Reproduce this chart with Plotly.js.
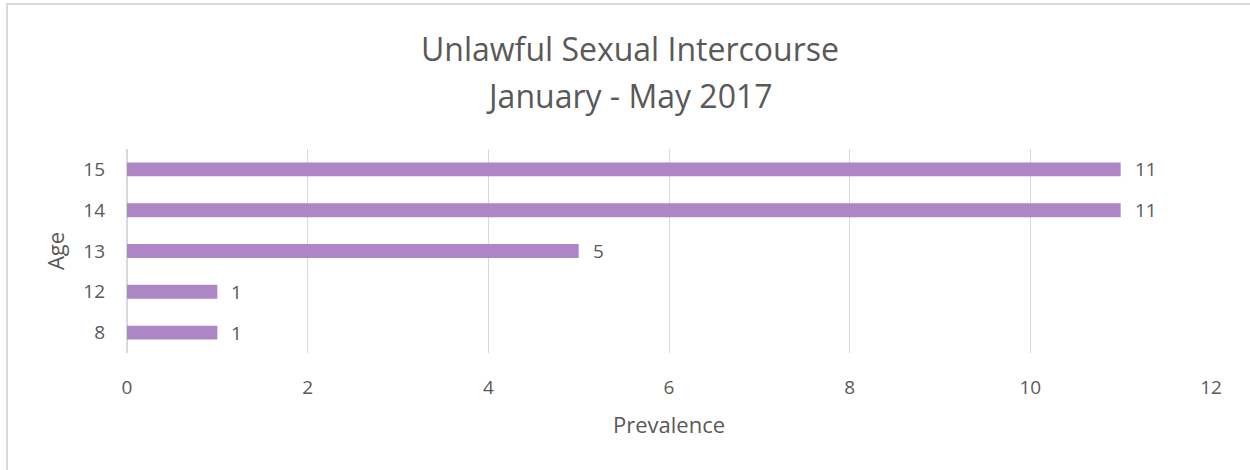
<!DOCTYPE html>
<html>
<head>
<meta charset="utf-8">
<script src="https://cdn.plot.ly/plotly-3.0.1.min.js"></script>
<style>
  html, body { margin: 0; padding: 0; background: #fff; }
  #wrap { position: relative; width: 1250px; height: 470px; overflow: hidden; }
  #frame { position: absolute; left: 6px; top: 3px; width: 1300px; height: 520px; border-left: 2px solid #d9d9d9; border-top: 2px solid #d9d9d9; box-sizing: border-box; pointer-events: none; }
  #chart { position: absolute; left: 0; top: 0; width: 1250px; height: 470px; }
</style>
</head>
<body>
<div id="wrap">
  <div id="chart"></div>
  <div id="frame"></div>
</div>
<script>
const ages = ['8', '12', '13', '14', '15'];
const prevalence = [1, 1, 5, 11, 11];
const titleLines = ['Unlawful Sexual Intercourse', 'January - May 2017'];
const xTitle = 'Prevalence';
const yTitle = 'Age';

const textColor = '#595959';
const fontFam = '"Open Sans", Lato, sans-serif';

const trace = {
  type: 'bar',
  orientation: 'h',
  x: prevalence,
  y: ages,
  marker: { color: '#ae86c6' },
  hoverinfo: 'x+y'
};

const valueLabels = prevalence.map((v, i) => ({
  x: v, y: i, xref: 'x', yref: 'y',
  text: String(v), showarrow: false, xanchor: 'left', xshift: 12,
  font: { family: fontFam, size: 19, color: textColor }
}));

const titleAnns = [
  { text: titleLines[0], y: 1.493 },
  { text: titleLines[1], y: 1.263 }
].map(t => ({
  text: t.text, x: 0.464, y: t.y, xref: 'paper', yref: 'paper',
  xanchor: 'center', yanchor: 'middle', showarrow: false,
  font: { family: fontFam, size: 32, color: textColor }
}));

const layout = {
  width: 1250, height: 470,
  margin: { l: 127, r: 39, t: 148.5, b: 116.5 },
  paper_bgcolor: 'rgba(0,0,0,0)',
  plot_bgcolor: '#ffffff',
  showlegend: false,
  bargap: 0.66,
  font: { family: fontFam, color: textColor, size: 19 },
  xaxis: {
    range: [0, 12],
    dtick: 2,
    tick0: 0,
    showgrid: true,
    gridcolor: '#d9d9d9',
    gridwidth: 1,
    zeroline: true,
    zerolinecolor: '#d9d9d9',
    zerolinewidth: 2,
    showline: false,
    ticks: '',
    ticklabelstandoff: 21,
    tickfont: { family: fontFam, size: 19, color: textColor },
    title: { text: xTitle, standoff: 18, font: { family: fontFam, size: 22, color: textColor } },
    fixedrange: true
  },
  yaxis: {
    type: 'category',
    categoryorder: 'array',
    categoryarray: ages,
    range: [-0.5, ages.length - 0.5],
    autorange: false,
    showgrid: false,
    zeroline: false,
    showline: false,
    ticks: '',
    ticklabelstandoff: 21,
    tickfont: { family: fontFam, size: 19, color: textColor },
    title: { text: yTitle, standoff: 12, font: { family: fontFam, size: 22, color: textColor } },
    fixedrange: true
  },
  annotations: titleAnns.concat(valueLabels)
};

Plotly.newPlot('chart', [trace], layout, { displayModeBar: false, staticPlot: true });
</script>
</body>
</html>
